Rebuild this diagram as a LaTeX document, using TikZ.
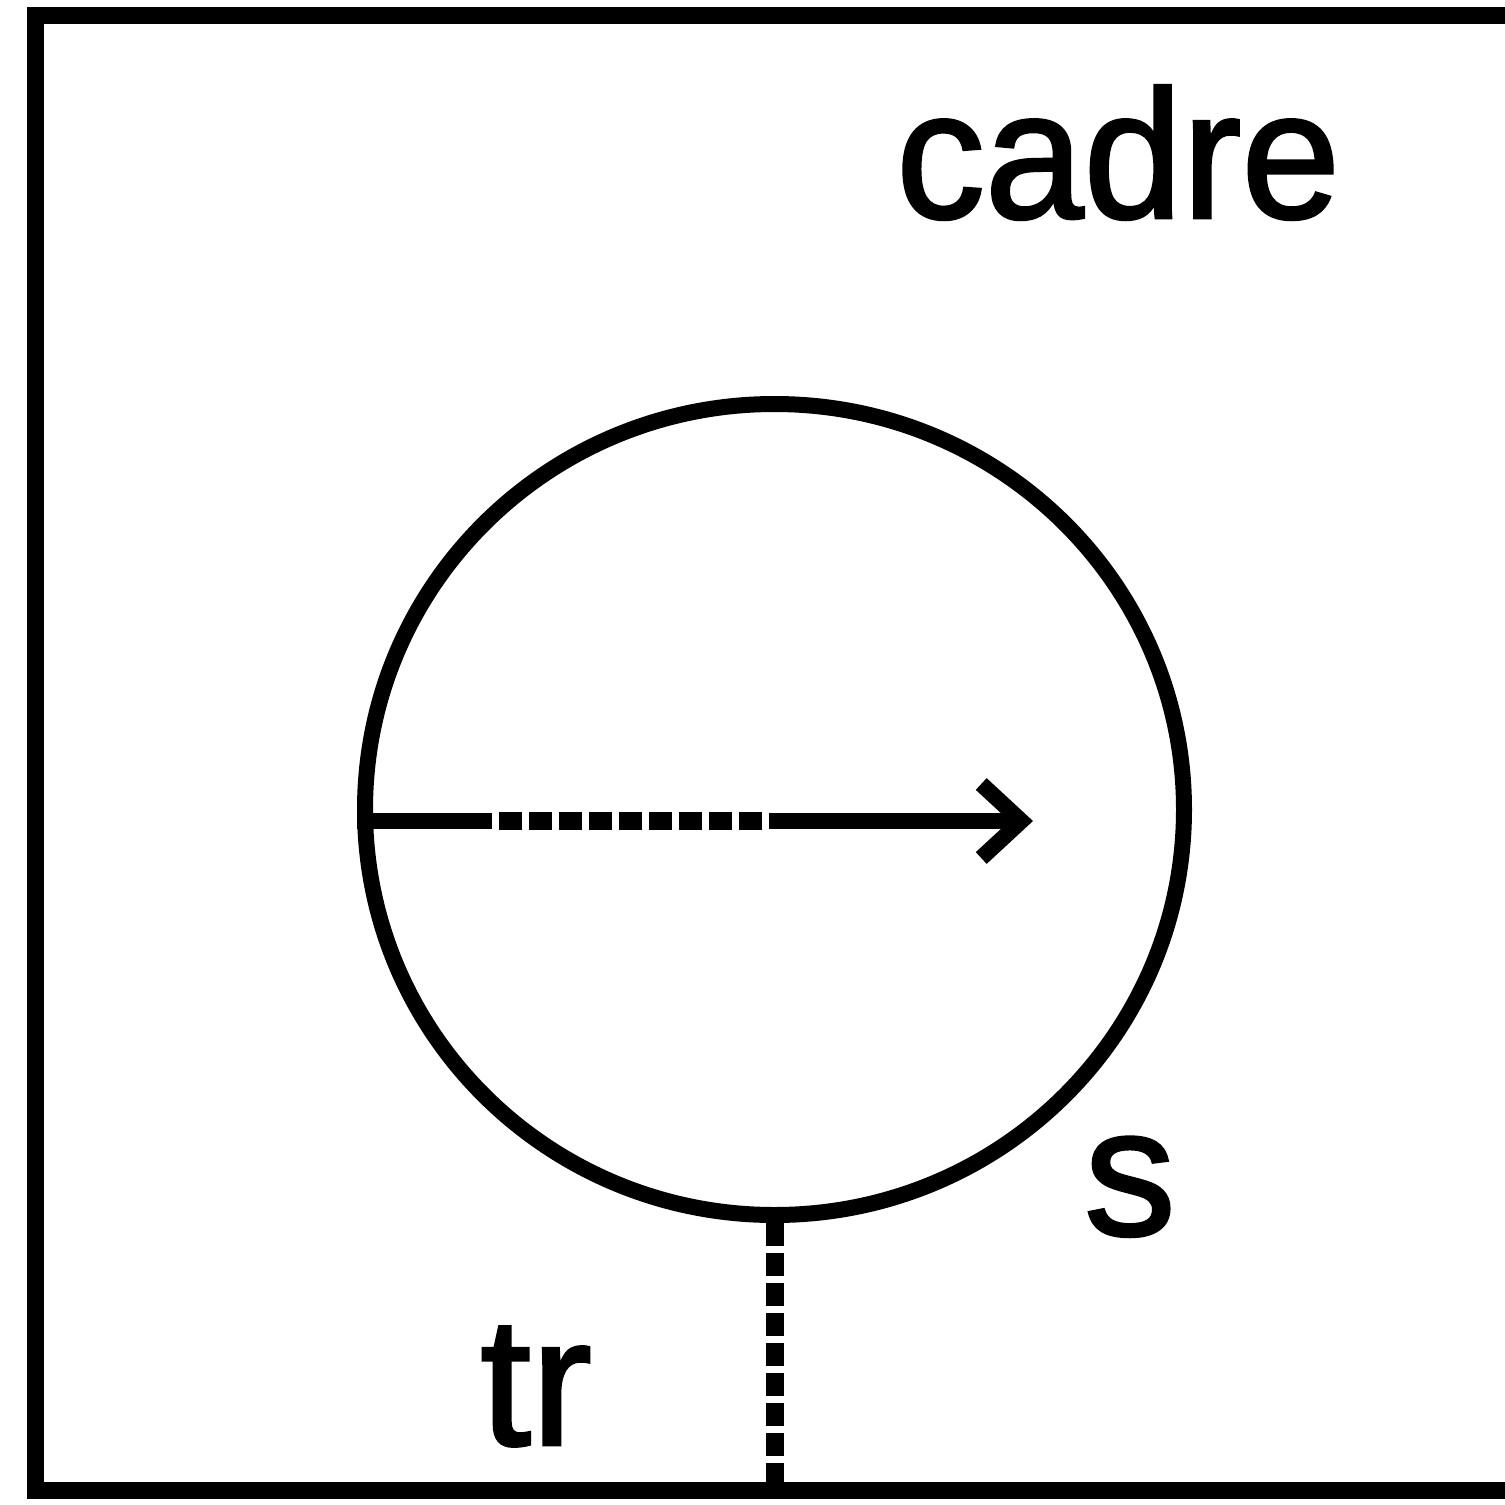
\documentclass[tikz,border=0pt]{standalone}
\usepackage{fontspec}
\setmainfont{Liberation Sans}
\newfontfamily\lblfont[FakeBold=1.6]{Liberation Sans}
\usetikzlibrary{arrows.meta,shapes.geometric,calc}
\begin{document}
\begin{tikzpicture}[x=1pt,y=-1pt,
  framebox/.style={draw,line width=17pt,rectangle,inner sep=0pt,outer sep=0pt,minimum width=1485pt,minimum height=1475pt},
  sphere/.style={draw,line width=16pt,ellipse,inner sep=0pt,minimum width=819pt,minimum height=811pt},
  solidline/.style={line width=16pt},
  dotline/.style={line width=18pt,dash pattern=on 23pt off 7pt},
  lbl/.style={inner sep=0pt,font=\lblfont\fontsize{183}{183}\selectfont}]
\useasboundingbox (0,0) rectangle (1505,1505);
\fill[white] (0,0) rectangle (1505,1505);
\node[framebox] (F) at (777.5,752.5) {};
\node[sphere] (S) at (774.5,809.5) {};
\coordinate (tipc) at (1033,821);
\coordinate (d1) at (492,821);
\coordinate (d2) at (769,821);
\draw[solidline] (S.west |- tipc) -- (d1);
\draw[dotline,dash phase=23pt] (d1) -- (d2);
\draw[solidline,-{Straight Barb[length=40pt,width=74pt]}] (d2) -- (tipc);
\draw[dotline] (S.south) -- (S.south |- F.south);
\node[lbl,anchor=base west,xscale=0.97] (cadre) at (896,218) {cadre};
\node[lbl,anchor=base west] (s) at (1084,1235) {s};
\node[lbl,anchor=base west] (tr) at (480,1445) {tr};
\end{tikzpicture}
\end{document}
